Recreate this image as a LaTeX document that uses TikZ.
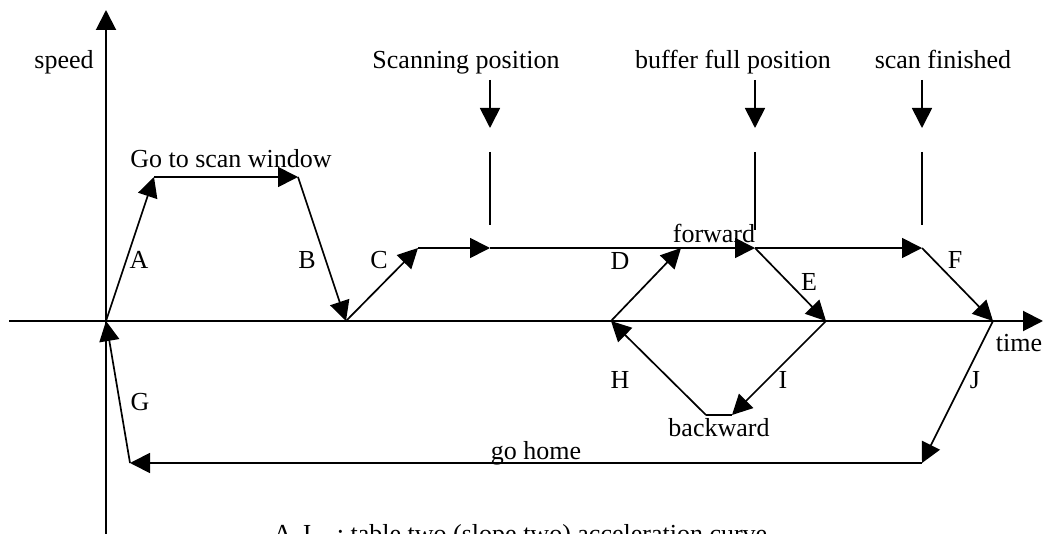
\documentclass[tikz,border=0pt]{standalone}
\usepackage{fontspec}
\setmainfont{Liberation Serif}
\usetikzlibrary{arrows.meta}

\begin{document}
\begin{tikzpicture}[x=0.5pt,y=-0.5pt,
    axis/.style={line width=1pt,-{Triangle[length=10pt,width=10pt]}},
    seg/.style={line width=0.85pt,-{Triangle[length=10pt,width=10pt]}},
    plain/.style={line width=0.75pt},
    lbl/.style={inner sep=0pt,font=\fontsize{13pt}{15pt}\selectfont}]
  \useasboundingbox (0,0) rectangle (1045,534);
  \clip (0,0) rectangle (1045,534);

  % axes
  \coordinate (O) at (106,321);
  \coordinate (ytop) at (106,10);
  \coordinate (ybot) at (106,534);
  \coordinate (xleft) at (9,321);
  \coordinate (xright) at (1043,321);
  \draw[axis] (ybot) -- (ytop);
  \draw[axis] (xleft) -- (xright);
  \node[lbl,anchor=base] (speed) at (64,69) {speed};
  \node[lbl] (time) at (1019,343) {time};

  % corners of the speed curve
  \coordinate (a1) at (154,177);
  \coordinate (a2) at (298,177);
  \coordinate (b) at (346,321);
  \coordinate (c) at (418,248);
  \coordinate (scn) at (490,248);
  \coordinate (bfp) at (755,248);
  \coordinate (fin) at (922,248);
  \coordinate (d0) at (611,321);
  \coordinate (d1) at (681,248);
  \coordinate (e) at (826,321);
  \coordinate (f) at (993,321);
  \coordinate (i1) at (732,415);
  \coordinate (h0) at (706,415);
  \coordinate (j) at (922,463);
  \coordinate (g) at (130,463);

  \draw[seg] (O) -- (a1);
  \draw[seg] (a1) -- (a2);
  \draw[seg] (a2) -- (b);
  \draw[seg] (b) -- (c);
  \draw[seg] (c) -- (scn);
  \draw[seg] (scn) -- (bfp);
  \draw[seg] (bfp) -- (fin);
  \draw[seg] (d0) -- (d1);
  \draw[seg] (bfp) -- (e);
  \draw[seg] (fin) -- (f);
  \draw[seg] (e) -- (i1);
  \draw[plain] (i1) -- (h0);
  \draw[seg] (h0) -- (d0);
  \draw[seg] (f) -- (j);
  \draw[seg] (j) -- (g);
  \draw[seg] (g) -- (O);

  % position markers
  \foreach \nm/\x/\yend in {scan/490/225, buf/755/230, done/922/225} {
    \coordinate (\nm-a) at (\x,80);
    \coordinate (\nm-b) at (\x,128);
    \coordinate (\nm-c) at (\x,152);
    \coordinate (\nm-d) at (\x,\yend);
    \draw[seg] (\nm-a) -- (\nm-b);
    \draw[plain] (\nm-c) -- (\nm-d);
  }
  \node[lbl,anchor=base] (scanpos) at (466,69) {Scanning position};
  \node[lbl,anchor=base] (bufpos) at (733,69) {buffer full position};
  \node[lbl,anchor=base] (scandone) at (943,69) {scan finished};

  % labels
  \node[lbl] (gowin) at (231,159) {Go to scan window};
  \node[lbl] (fwd) at (714,233) {forward};
  \node[lbl] (bwd) at (719,428) {backward};
  \node[lbl,anchor=base] (home) at (536,459) {go home};
  \node[lbl] (labA) at (139,260) {A};
  \node[lbl] (labB) at (307,260) {B};
  \node[lbl] (labC) at (379,260) {C};
  \node[lbl] (labD) at (620,261) {D};
  \node[lbl] (labE) at (809,282) {E};
  \node[lbl] (labF) at (955,260) {F};
  \node[lbl] (labG) at (140,402) {G};
  \node[lbl] (labH) at (620,380) {H};
  \node[lbl] (labI) at (783,380) {I};
  \node[lbl] (labJ) at (975,380) {J};
  \node[lbl,anchor=base west] (note) at (273,542)
    {A-J\quad: table two (slope two) acceleration curve};
\end{tikzpicture}
\end{document}
